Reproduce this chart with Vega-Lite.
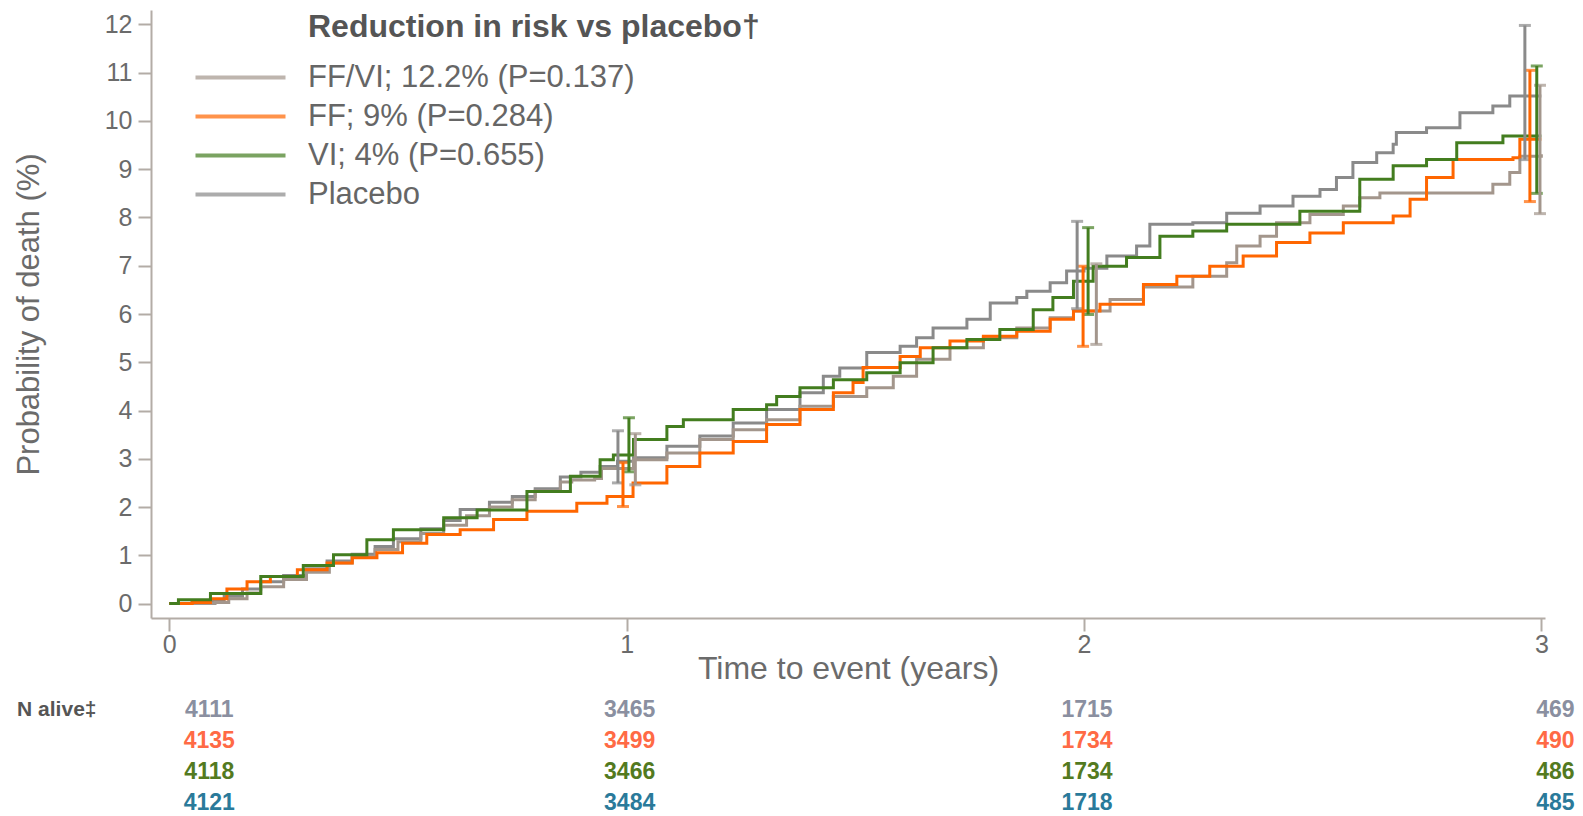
{
  "$schema": "https://vega.github.io/schema/vega-lite/v6.json",
  "background": "white",
  "padding": {"left": 13, "top": 10, "right": 5, "bottom": 0},
  "config": {"view": {"stroke": null}, "font": "Liberation Sans"},
  "datasets": {
    "curves": [
      {"series": "Placebo", "t": 0, "p": 0}, {"series": "Placebo", "t": 0.05, "p": 0.02}, {"series": "Placebo", "t": 0.09, "p": 0.06}, {"series": "Placebo", "t": 0.12, "p": 0.15}, {"series": "Placebo", "t": 0.16, "p": 0.3}, {"series": "Placebo", "t": 0.2, "p": 0.45}, {"series": "Placebo", "t": 0.25, "p": 0.58}, {"series": "Placebo", "t": 0.3, "p": 0.72}, {"series": "Placebo", "t": 0.345, "p": 0.88}, {"series": "Placebo", "t": 0.4, "p": 1.02}, {"series": "Placebo", "t": 0.45, "p": 1.18}, {"series": "Placebo", "t": 0.49, "p": 1.34}, {"series": "Placebo", "t": 0.55, "p": 1.55}, {"series": "Placebo", "t": 0.6, "p": 1.72}, {"series": "Placebo", "t": 0.636, "p": 1.95}, {"series": "Placebo", "t": 0.7, "p": 2.1}, {"series": "Placebo", "t": 0.75, "p": 2.22}, {"series": "Placebo", "t": 0.8, "p": 2.38}, {"series": "Placebo", "t": 0.855, "p": 2.62}, {"series": "Placebo", "t": 0.9, "p": 2.72}, {"series": "Placebo", "t": 0.942, "p": 2.84}, {"series": "Placebo", "t": 0.98, "p": 2.95}, {"series": "Placebo", "t": 1.015, "p": 3.02}, {"series": "Placebo", "t": 1.088, "p": 3.26}, {"series": "Placebo", "t": 1.16, "p": 3.47}, {"series": "Placebo", "t": 1.233, "p": 3.74}, {"series": "Placebo", "t": 1.306, "p": 4.02}, {"series": "Placebo", "t": 1.379, "p": 4.37}, {"series": "Placebo", "t": 1.43, "p": 4.71}, {"series": "Placebo", "t": 1.466, "p": 4.88}, {"series": "Placebo", "t": 1.525, "p": 5.2}, {"series": "Placebo", "t": 1.598, "p": 5.33}, {"series": "Placebo", "t": 1.634, "p": 5.51}, {"series": "Placebo", "t": 1.67, "p": 5.71}, {"series": "Placebo", "t": 1.744, "p": 5.89}, {"series": "Placebo", "t": 1.795, "p": 6.23}, {"series": "Placebo", "t": 1.853, "p": 6.34}, {"series": "Placebo", "t": 1.875, "p": 6.47}, {"series": "Placebo", "t": 1.926, "p": 6.65}, {"series": "Placebo", "t": 1.962, "p": 6.89}, {"series": "Placebo", "t": 2.0, "p": 6.95}, {"series": "Placebo", "t": 2.05, "p": 7.2}, {"series": "Placebo", "t": 2.115, "p": 7.41}, {"series": "Placebo", "t": 2.144, "p": 7.86}, {"series": "Placebo", "t": 2.238, "p": 7.89}, {"series": "Placebo", "t": 2.312, "p": 8.09}, {"series": "Placebo", "t": 2.385, "p": 8.24}, {"series": "Placebo", "t": 2.457, "p": 8.44}, {"series": "Placebo", "t": 2.516, "p": 8.58}, {"series": "Placebo", "t": 2.552, "p": 8.83}, {"series": "Placebo", "t": 2.588, "p": 9.14}, {"series": "Placebo", "t": 2.64, "p": 9.34}, {"series": "Placebo", "t": 2.676, "p": 9.52}, {"series": "Placebo", "t": 2.683, "p": 9.76}, {"series": "Placebo", "t": 2.749, "p": 9.86}, {"series": "Placebo", "t": 2.822, "p": 10.17}, {"series": "Placebo", "t": 2.894, "p": 10.31}, {"series": "Placebo", "t": 2.931, "p": 10.52}, {"series": "Placebo", "t": 3.0, "p": 10.52},

      {"series": "FF/VI", "t": 0, "p": 0}, {"series": "FF/VI", "t": 0.1, "p": 0.02}, {"series": "FF/VI", "t": 0.13, "p": 0.1}, {"series": "FF/VI", "t": 0.17, "p": 0.22}, {"series": "FF/VI", "t": 0.2, "p": 0.35}, {"series": "FF/VI", "t": 0.25, "p": 0.5}, {"series": "FF/VI", "t": 0.3, "p": 0.65}, {"series": "FF/VI", "t": 0.35, "p": 0.84}, {"series": "FF/VI", "t": 0.4, "p": 0.98}, {"series": "FF/VI", "t": 0.45, "p": 1.12}, {"series": "FF/VI", "t": 0.5, "p": 1.28}, {"series": "FF/VI", "t": 0.55, "p": 1.45}, {"series": "FF/VI", "t": 0.6, "p": 1.62}, {"series": "FF/VI", "t": 0.65, "p": 1.82}, {"series": "FF/VI", "t": 0.7, "p": 2.0}, {"series": "FF/VI", "t": 0.75, "p": 2.15}, {"series": "FF/VI", "t": 0.8, "p": 2.33}, {"series": "FF/VI", "t": 0.855, "p": 2.52}, {"series": "FF/VI", "t": 0.88, "p": 2.56}, {"series": "FF/VI", "t": 0.93, "p": 2.59}, {"series": "FF/VI", "t": 0.945, "p": 2.8}, {"series": "FF/VI", "t": 1.015, "p": 2.98}, {"series": "FF/VI", "t": 1.088, "p": 3.12}, {"series": "FF/VI", "t": 1.16, "p": 3.4}, {"series": "FF/VI", "t": 1.233, "p": 3.6}, {"series": "FF/VI", "t": 1.306, "p": 3.81}, {"series": "FF/VI", "t": 1.379, "p": 4.09}, {"series": "FF/VI", "t": 1.452, "p": 4.29}, {"series": "FF/VI", "t": 1.525, "p": 4.47}, {"series": "FF/VI", "t": 1.583, "p": 4.71}, {"series": "FF/VI", "t": 1.634, "p": 5.06}, {"series": "FF/VI", "t": 1.707, "p": 5.3}, {"series": "FF/VI", "t": 1.78, "p": 5.51}, {"series": "FF/VI", "t": 1.853, "p": 5.71}, {"series": "FF/VI", "t": 1.926, "p": 5.92}, {"series": "FF/VI", "t": 1.977, "p": 6.06}, {"series": "FF/VI", "t": 2.057, "p": 6.3}, {"series": "FF/VI", "t": 2.13, "p": 6.56}, {"series": "FF/VI", "t": 2.238, "p": 6.78}, {"series": "FF/VI", "t": 2.312, "p": 7.06}, {"series": "FF/VI", "t": 2.334, "p": 7.41}, {"series": "FF/VI", "t": 2.385, "p": 7.61}, {"series": "FF/VI", "t": 2.421, "p": 7.89}, {"series": "FF/VI", "t": 2.494, "p": 8.06}, {"series": "FF/VI", "t": 2.567, "p": 8.24}, {"series": "FF/VI", "t": 2.603, "p": 8.41}, {"series": "FF/VI", "t": 2.647, "p": 8.51}, {"series": "FF/VI", "t": 2.88, "p": 8.51}, {"series": "FF/VI", "t": 2.894, "p": 8.69}, {"series": "FF/VI", "t": 2.931, "p": 8.93}, {"series": "FF/VI", "t": 2.953, "p": 9.27}, {"series": "FF/VI", "t": 3.0, "p": 9.31},

      {"series": "FF", "t": 0, "p": 0}, {"series": "FF", "t": 0.05, "p": 0.02}, {"series": "FF", "t": 0.09, "p": 0.1}, {"series": "FF", "t": 0.126, "p": 0.3}, {"series": "FF", "t": 0.17, "p": 0.45}, {"series": "FF", "t": 0.221, "p": 0.56}, {"series": "FF", "t": 0.28, "p": 0.7}, {"series": "FF", "t": 0.345, "p": 0.84}, {"series": "FF", "t": 0.4, "p": 0.95}, {"series": "FF", "t": 0.454, "p": 1.05}, {"series": "FF", "t": 0.51, "p": 1.25}, {"series": "FF", "t": 0.563, "p": 1.43}, {"series": "FF", "t": 0.636, "p": 1.53}, {"series": "FF", "t": 0.709, "p": 1.74}, {"series": "FF", "t": 0.782, "p": 1.91}, {"series": "FF", "t": 0.891, "p": 2.08}, {"series": "FF", "t": 0.957, "p": 2.22}, {"series": "FF", "t": 1.014, "p": 2.5}, {"series": "FF", "t": 1.088, "p": 2.84}, {"series": "FF", "t": 1.16, "p": 3.12}, {"series": "FF", "t": 1.233, "p": 3.36}, {"series": "FF", "t": 1.306, "p": 3.71}, {"series": "FF", "t": 1.379, "p": 4.02}, {"series": "FF", "t": 1.452, "p": 4.37}, {"series": "FF", "t": 1.495, "p": 4.58}, {"series": "FF", "t": 1.517, "p": 4.89}, {"series": "FF", "t": 1.598, "p": 5.12}, {"series": "FF", "t": 1.642, "p": 5.3}, {"series": "FF", "t": 1.707, "p": 5.44}, {"series": "FF", "t": 1.78, "p": 5.54}, {"series": "FF", "t": 1.853, "p": 5.64}, {"series": "FF", "t": 1.926, "p": 5.89}, {"series": "FF", "t": 1.977, "p": 6.06}, {"series": "FF", "t": 2.035, "p": 6.2}, {"series": "FF", "t": 2.13, "p": 6.61}, {"series": "FF", "t": 2.203, "p": 6.78}, {"series": "FF", "t": 2.275, "p": 6.99}, {"series": "FF", "t": 2.348, "p": 7.2}, {"series": "FF", "t": 2.421, "p": 7.48}, {"series": "FF", "t": 2.494, "p": 7.68}, {"series": "FF", "t": 2.567, "p": 7.89}, {"series": "FF", "t": 2.676, "p": 8.03}, {"series": "FF", "t": 2.713, "p": 8.38}, {"series": "FF", "t": 2.749, "p": 8.83}, {"series": "FF", "t": 2.807, "p": 9.2}, {"series": "FF", "t": 2.938, "p": 9.24}, {"series": "FF", "t": 2.953, "p": 9.62}, {"series": "FF", "t": 3.0, "p": 9.62},

      {"series": "VI", "t": 0, "p": 0}, {"series": "VI", "t": 0.02, "p": 0.08}, {"series": "VI", "t": 0.09, "p": 0.21}, {"series": "VI", "t": 0.2, "p": 0.56}, {"series": "VI", "t": 0.293, "p": 0.79}, {"series": "VI", "t": 0.359, "p": 1.01}, {"series": "VI", "t": 0.432, "p": 1.32}, {"series": "VI", "t": 0.49, "p": 1.53}, {"series": "VI", "t": 0.6, "p": 1.78}, {"series": "VI", "t": 0.673, "p": 1.94}, {"series": "VI", "t": 0.782, "p": 2.32}, {"series": "VI", "t": 0.877, "p": 2.64}, {"series": "VI", "t": 0.942, "p": 2.98}, {"series": "VI", "t": 0.971, "p": 3.08}, {"series": "VI", "t": 1.015, "p": 3.4}, {"series": "VI", "t": 1.088, "p": 3.67}, {"series": "VI", "t": 1.124, "p": 3.81}, {"series": "VI", "t": 1.233, "p": 4.02}, {"series": "VI", "t": 1.306, "p": 4.12}, {"series": "VI", "t": 1.328, "p": 4.29}, {"series": "VI", "t": 1.379, "p": 4.47}, {"series": "VI", "t": 1.452, "p": 4.64}, {"series": "VI", "t": 1.525, "p": 4.78}, {"series": "VI", "t": 1.598, "p": 4.99}, {"series": "VI", "t": 1.67, "p": 5.3}, {"series": "VI", "t": 1.744, "p": 5.47}, {"series": "VI", "t": 1.816, "p": 5.68}, {"series": "VI", "t": 1.889, "p": 6.09}, {"series": "VI", "t": 1.932, "p": 6.34}, {"series": "VI", "t": 1.977, "p": 6.68}, {"series": "VI", "t": 2.02, "p": 6.99}, {"series": "VI", "t": 2.093, "p": 7.17}, {"series": "VI", "t": 2.166, "p": 7.61}, {"series": "VI", "t": 2.238, "p": 7.72}, {"series": "VI", "t": 2.312, "p": 7.86}, {"series": "VI", "t": 2.4, "p": 7.86}, {"series": "VI", "t": 2.472, "p": 8.13}, {"series": "VI", "t": 2.588, "p": 8.13}, {"series": "VI", "t": 2.603, "p": 8.79}, {"series": "VI", "t": 2.676, "p": 9.07}, {"series": "VI", "t": 2.749, "p": 9.2}, {"series": "VI", "t": 2.815, "p": 9.55}, {"series": "VI", "t": 2.916, "p": 9.69}, {"series": "VI", "t": 3.0, "p": 9.69}
    ],
    "errors": [
      {"series": "Placebo", "t": 0.981, "lo": 2.5, "hi": 3.58},
      {"series": "Placebo", "t": 1.985, "lo": 6.11, "hi": 7.92},
      {"series": "Placebo", "t": 2.964, "lo": 9.2, "hi": 11.98},
      {"series": "FF", "t": 0.992, "lo": 2.01, "hi": 2.92},
      {"series": "FF", "t": 1.998, "lo": 5.33, "hi": 6.99},
      {"series": "FF", "t": 2.975, "lo": 8.33, "hi": 11.05},
      {"series": "VI", "t": 1.005, "lo": 2.73, "hi": 3.85},
      {"series": "VI", "t": 2.009, "lo": 5.99, "hi": 7.79},
      {"series": "VI", "t": 2.99, "lo": 8.5, "hi": 11.14},
      {"series": "FF/VI", "t": 1.019, "lo": 2.46, "hi": 3.52},
      {"series": "FF/VI", "t": 2.027, "lo": 5.37, "hi": 7.04},
      {"series": "FF/VI", "t": 2.997, "lo": 8.08, "hi": 10.74}
    ],
    "nalive": [
      {"series": "FF/VI", "t": 0, "n": 4111}, {"series": "FF/VI", "t": 1, "n": 3465}, {"series": "FF/VI", "t": 2, "n": 1715}, {"series": "FF/VI", "t": 3, "n": 469},
      {"series": "FF", "t": 0, "n": 4135}, {"series": "FF", "t": 1, "n": 3499}, {"series": "FF", "t": 2, "n": 1734}, {"series": "FF", "t": 3, "n": 490},
      {"series": "VI", "t": 0, "n": 4118}, {"series": "VI", "t": 1, "n": 3466}, {"series": "VI", "t": 2, "n": 1734}, {"series": "VI", "t": 3, "n": 486},
      {"series": "Placebo", "t": 0, "n": 4121}, {"series": "Placebo", "t": 1, "n": 3484}, {"series": "Placebo", "t": 2, "n": 1718}, {"series": "Placebo", "t": 3, "n": 485}
    ]
  },
  "vconcat": [
    {
      "width": 1394,
      "height": 608,
      "layer": [
        {
          "data": {"name": "curves"},
          "mark": {"type": "line", "interpolate": "step-after", "strokeWidth": 3},
          "encoding": {
            "x": {"field": "t", "type": "quantitative", "title": "Time to event (years)", "scale": {"domain": [-0.04, 3.008], "nice": false, "zero": false},
              "axis": {"values": [0, 1, 2, 3], "format": "d", "grid": false, "labelFontSize": 25, "labelColor": "#6b6b6b", "labelPadding": 1, "tickSize": 13, "tickWidth": 2, "tickColor": "#b3aca6", "domainColor": "#b3aca6", "domainWidth": 2, "titleFontSize": 32, "titleFontWeight": "normal", "titleColor": "#6b6b6b", "titlePadding": -4}},
            "y": {"field": "p", "type": "quantitative", "title": "Probability of death (%)", "scale": {"domain": [-0.3, 12.3], "nice": false, "zero": false},
              "axis": {"values": [0, 1, 2, 3, 4, 5, 6, 7, 8, 9, 10, 11, 12], "grid": false, "labelFontSize": 25, "labelColor": "#6b6b6b", "labelPadding": 6, "tickSize": 13, "tickWidth": 2, "tickColor": "#b3aca6", "domainColor": "#b3aca6", "domainWidth": 2, "titleFontSize": 31, "titleFontWeight": "normal", "titleColor": "#6b6b6b", "titlePadding": 59}},
            "color": {"field": "series", "type": "nominal",
              "scale": {"domain": ["FF/VI", "FF", "VI", "Placebo"], "range": ["#a3968c", "#ff6600", "#437d1f", "#8a8a8a"]},
              "legend": {"orient": "none", "legendX": 157, "legendY": 2, "padding": 0,
                "title": "Reduction in risk vs placebo†", "titleFontSize": 32, "titleFontWeight": "bold", "titleColor": "#555555", "titleFont": "Liberation Sans", "titlePadding": 18, "titleLimit": 0,
                "labelExpr": "datum.label == 'FF/VI' ? 'FF/VI; 12.2% (P=0.137)' : datum.label == 'FF' ? 'FF; 9% (P=0.284)' : datum.label == 'VI' ? 'VI; 4% (P=0.655)' : 'Placebo'",
                "symbolType": "M-5,0H5", "symbolSize": 324, "symbolStrokeWidth": 4, "symbolOffset": -83, "labelOffset": 52,
                "labelFontSize": 31, "labelColor": "#666666", "labelFont": "Liberation Sans", "labelLimit": 0, "rowPadding": 7}}
          }
        },
        {
          "data": {"name": "errors"},
          "mark": {"type": "errorbar", "thickness": 3, "ticks": {"size": 12, "thickness": 3}},
          "encoding": {
            "x": {"field": "t", "type": "quantitative", "title": "Time to event (years)"},
            "y": {"field": "lo", "type": "quantitative", "title": "Probability of death (%)"},
            "y2": {"field": "hi"},
            "color": {"field": "series", "type": "nominal"}
          }
        }
      ]
    },
    {
      "width": 1394,
      "height": 124,
      "data": {"name": "nalive"},
      "encoding": {
        "x": {"field": "t", "type": "quantitative", "scale": {"domain": [-0.04, 3.008], "nice": false, "zero": false}, "axis": null},
        "y": {"field": "series", "type": "nominal", "sort": ["FF/VI", "FF", "VI", "Placebo"], "scale": {"type": "point", "padding": 0.5},
          "axis": {"title": null, "domain": false, "ticks": false, "grid": false, "labelExpr": "datum.value == 'FF/VI' ? 'N alive‡' : ''", "labelFont": "Liberation Sans", "labelFontWeight": "bold", "labelFontSize": 21, "labelColor": "#555555", "labelPadding": 55}},
        "color": {"field": "series", "type": "nominal", "scale": {"domain": ["FF/VI", "FF", "VI", "Placebo"], "range": ["#8a8fa0", "#ff6a45", "#537a1f", "#2a7a9a"]}, "legend": null},
        "text": {"field": "n", "type": "quantitative", "format": "d"}
      },
      "layer": [
        {"transform": [{"filter": "datum.t == 0"}], "mark": {"type": "text", "dx": 40, "font": "Liberation Sans", "fontWeight": "bold", "fontSize": 23}},
        {"transform": [{"filter": "datum.t == 1 || datum.t == 2"}], "mark": {"type": "text", "dx": 3, "font": "Liberation Sans", "fontWeight": "bold", "fontSize": 23}},
        {"transform": [{"filter": "datum.t == 3"}], "mark": {"type": "text", "dx": 14, "font": "Liberation Sans", "fontWeight": "bold", "fontSize": 23}}
      ]
    }
  ],
  "spacing": 76,
  "bounds": "flush",
  "resolve": {"scale": {"color": "independent", "x": "independent", "y": "independent"}}
}
